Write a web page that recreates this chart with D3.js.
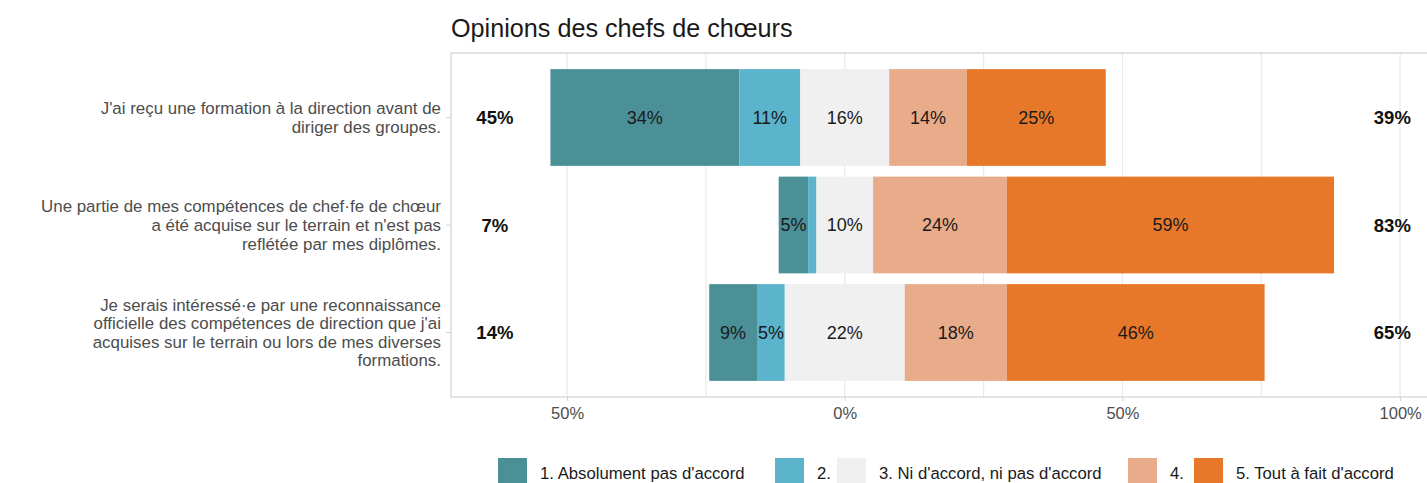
<!DOCTYPE html>
<html>
<head>
<meta charset="utf-8">
<script src="https://cdn.jsdelivr.net/npm/d3@7"></script>
<style>
  body { margin: 0; background: #fff; }
  text { font-family: "Liberation Sans", Arial, Helvetica, sans-serif; }
</style>
</head>
<body>
<div id="chart"></div>
<script>
var width = 1427, height = 483;
var panel = {left: 451, right: 1429, top: 53, bottom: 397};

// Questions (top to bottom)
var questions = [
  ["J'ai reçu une formation à la direction avant de", "diriger des groupes."],
  ["Une partie de mes compétences de chef·fe de chœur", "a été acquise sur le terrain et n'est pas", "reflétée par mes diplômes."],
  ["Je serais intéressé·e par une reconnaissance", "officielle des compétences de direction que j'ai", "acquises sur le terrain ou lors de mes diverses", "formations."]
];

// Response levels
var levels = ["1. Absolument pas d'accord", "2.", "3. Ni d'accord, ni pas d'accord", "4.", "5. Tout à fait d'accord"];
var colors = ["#4b8f97", "#5bb3cc", "#f0f0f0", "#e9ac8a", "#e87829"];

// Percent answering each level, per question (same order as questions)
var level1 = [34, 5.3, 8.6];
var level2 = [11, 1.5, 5.0];
var level3 = [16, 10.2, 21.6];
var level4 = [14, 24.1, 18.4];
var level5 = [25, 58.9, 46.4];

var xTicks = [-50, 0, 50, 100];
var xGrid = [-50, -25, 0, 25, 50, 75, 100];

var x = d3.scaleLinear()
  .domain([-70.9, 105.2])
  .range([panel.left, panel.right]);

var y = d3.scalePoint()
  .domain(d3.range(questions.length))
  .range([panel.top, panel.bottom])
  .padding(0.6);
var barH = y.step() * 0.9;

var svg = d3.select("#chart").append("svg")
  .attr("width", width)
  .attr("height", height);

// title
svg.append("text")
  .attr("x", panel.left)
  .attr("y", 37)
  .style("font-size", "25.2px")
  .style("fill", "#1a1a1a")
  .text("Opinions des chefs de chœurs");

// grid lines
svg.selectAll("line.grid")
  .data(xGrid)
  .enter().append("line")
  .attr("class", "grid")
  .attr("x1", function(d){ return x(d); })
  .attr("x2", function(d){ return x(d); })
  .attr("y1", panel.top)
  .attr("y2", panel.bottom)
  .style("stroke", "#e9e9e9")
  .style("stroke-width", 1.2);

// build the stacked segments: neutral split half on each side of zero
var rows = questions.map(function(q, i) {
  var vals = [level1[i], level2[i], level3[i], level4[i], level5[i]];
  var start = -(vals[0] + vals[1] + vals[2] / 2);
  var segs = vals.map(function(v, k) {
    var s = {row: i, level: k, x0: start, x1: start + v, value: v};
    start += v;
    return s;
  });
  return {
    index: i,
    segs: segs,
    low: vals[0] + vals[1],
    high: vals[3] + vals[4]
  };
});

var segments = [].concat.apply([], rows.map(function(r){ return r.segs; }));

svg.selectAll("rect.seg")
  .data(segments)
  .enter().append("rect")
  .attr("class", "seg")
  .attr("x", function(d){ return x(d.x0); })
  .attr("width", function(d){ return x(d.x1) - x(d.x0); })
  .attr("y", function(d){ return y(d.row) - barH / 2; })
  .attr("height", barH)
  .style("fill", function(d){ return colors[d.level]; });

// percent labels inside the bars
svg.selectAll("text.pct")
  .data(segments.filter(function(d){ return d.value >= 2; }))
  .enter().append("text")
  .attr("class", "pct")
  .attr("x", function(d){ return x((d.x0 + d.x1) / 2); })
  .attr("y", function(d){ return y(d.row); })
  .attr("dy", "0.36em")
  .attr("text-anchor", "middle")
  .style("font-size", "18px")
  .style("fill", "#1a1a1a")
  .text(function(d){ return Math.round(d.value) + "%"; });

// totals on each side
svg.selectAll("text.low")
  .data(rows)
  .enter().append("text")
  .attr("x", x(-63))
  .attr("y", function(d){ return y(d.index); })
  .attr("dy", "0.36em")
  .attr("text-anchor", "middle")
  .style("font-size", "18.5px")
  .style("font-weight", "bold")
  .style("fill", "#111")
  .text(function(d){ return Math.round(d.low) + "%"; });

svg.selectAll("text.high")
  .data(rows)
  .enter().append("text")
  .attr("x", x(98.6))
  .attr("y", function(d){ return y(d.index); })
  .attr("dy", "0.36em")
  .attr("text-anchor", "middle")
  .style("font-size", "18.5px")
  .style("font-weight", "bold")
  .style("fill", "#111")
  .text(function(d){ return Math.round(d.high) + "%"; });

// panel border
svg.append("rect")
  .attr("x", panel.left)
  .attr("y", panel.top)
  .attr("width", panel.right - panel.left)
  .attr("height", panel.bottom - panel.top)
  .style("fill", "none")
  .style("stroke", "#d4d4d4")
  .style("stroke-width", 1.3);

// x axis
var xAxis = d3.axisBottom(x)
  .tickValues(xTicks)
  .tickSize(4)
  .tickPadding(6)
  .tickFormat(function(d){ return Math.abs(d) + "%"; });

var gx = svg.append("g")
  .attr("transform", "translate(0," + panel.bottom + ")")
  .call(xAxis);
gx.select(".domain").remove();
gx.selectAll("line").style("stroke", "#d4d4d4");
gx.selectAll("text")
  .style("font-size", "16.5px")
  .style("fill", "#4d4d4d")
  .style("font-family", "'Liberation Sans', Arial, sans-serif");

// y axis ticks and multi-line labels
svg.selectAll("line.ytick")
  .data(rows)
  .enter().append("line")
  .attr("x1", panel.left - 5)
  .attr("x2", panel.left)
  .attr("y1", function(d){ return y(d.index); })
  .attr("y2", function(d){ return y(d.index); })
  .style("stroke", "#d4d4d4");

var lineH = 18.6;
var ylab = svg.selectAll("text.ylab")
  .data(questions)
  .enter().append("text")
  .attr("class", "ylab")
  .attr("text-anchor", "end")
  .style("font-size", "16.9px")
  .style("fill", "#4d4d4d");

ylab.each(function(lines, i) {
  var t = d3.select(this);
  var first = y(i) - (lines.length - 1) * lineH / 2;
  lines.forEach(function(l, k) {
    t.append("tspan")
      .attr("x", panel.left - 10)
      .attr("y", first + k * lineH)
      .attr("dy", "0.36em")
      .text(l);
  });
});

// legend (key positions follow the reference layout)
var legendX = [498, 775, 837, 1128, 1194];
var sw = 29, ly = 458;
var legend = svg.append("g");
levels.forEach(function(name, k) {
  legend.append("rect")
    .attr("x", legendX[k])
    .attr("y", ly)
    .attr("width", sw)
    .attr("height", sw)
    .style("fill", colors[k]);
  legend.append("text")
    .attr("x", legendX[k] + sw + 13)
    .attr("y", ly + sw / 2)
    .attr("dy", "0.36em")
    .style("font-size", "16.7px")
    .style("fill", "#1a1a1a")
    .text(name);
});
</script>
</body>
</html>
